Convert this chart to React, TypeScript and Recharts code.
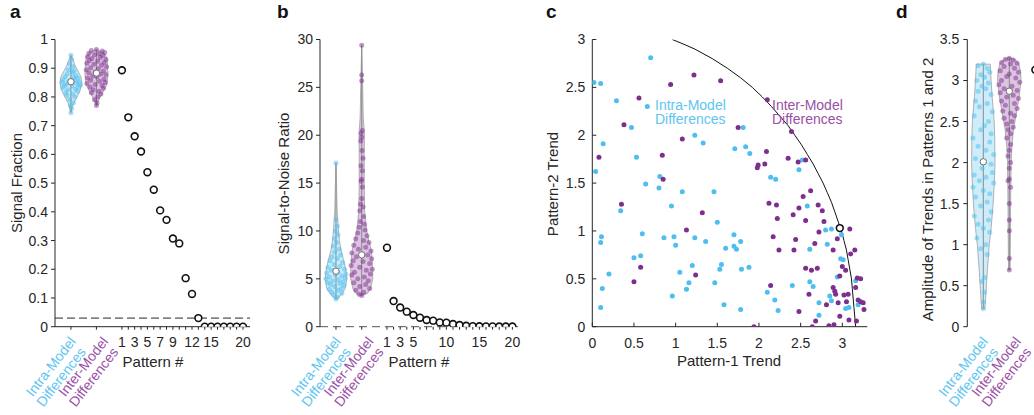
import React from "react";
import { ScatterChart, Scatter, XAxis, YAxis, ReferenceLine } from "recharts";

const FONT = '"Liberation Sans", Arial, Helvetica, sans-serif';
const INK = "#262626";
const CYAN = "#4DBEEE";
const PURPLE = "#7E2F8E";
const CYAN_TEXT = "#5EC5F0";
const PURPLE_TEXT = "#9A50A6";
const VIOLIN_EDGE = "#a0a0a0";
const WHISKER = "#8a8a8a";

const PATTERNS = [1, 2, 3, 4, 5, 6, 7, 8, 9, 10, 11, 12, 13, 14, 15, 16, 17, 18, 19, 20];

// ---------- panel a: signal fraction ----------
const SIGNAL_FRACTION = [0.893, 0.729, 0.663, 0.61, 0.538, 0.477, 0.405, 0.372, 0.307, 0.29, 0.169, 0.114, 0.03, 0, 0, 0, 0, 0, 0, 0];
const FRACTION_TICKS = [0, 0.1, 0.2, 0.3, 0.4, 0.5, 0.6, 0.7, 0.8, 0.9, 1];
const PATTERN_LABELS_A = [1, 3, 5, 7, 9, 12, 15, 20];
const FRACTION_THRESHOLD = 0.03;
const A_INTRA_X = -7;
const A_INTER_X = -3;
const A_MEDIANS = [0.853, 0.883];
const A_INTRA_OUTLINE_Y = [0.745, 0.76, 0.78, 0.8, 0.82, 0.85, 0.87, 0.89, 0.91, 0.93, 0.945];
const A_INTRA_OUTLINE_W = [0, 0.16, 0.47, 0.94, 1.41, 1.73, 1.57, 1.1, 0.63, 0.31, 0];
const A_INTER_OUTLINE_Y = [0.77, 0.78, 0.8, 0.82, 0.84, 0.86, 0.88, 0.9, 0.92, 0.94, 0.955, 0.965];
const A_INTER_OUTLINE_W = [0, 0.16, 0.63, 1.1, 1.57, 1.73, 1.81, 1.73, 1.73, 1.57, 1.1, 0];
const A_INTRA_DOTS = [
  [0, 0.945], [0.1, 0.93], [-0.2, 0.915], [0.3, 0.905], [-0.4, 0.895], [0.5, 0.89], [0.2, 0.885], [-0.6, 0.88],
  [0.8, 0.875], [-0.9, 0.87], [0.4, 0.868], [1.1, 0.865], [-1.2, 0.86], [0.6, 0.858], [-0.3, 0.855], [1.3, 0.852],
  [-1.4, 0.85], [0.9, 0.847], [-0.7, 0.845], [1.5, 0.842], [-1.0, 0.84], [0.2, 0.838], [1.2, 0.835], [-1.3, 0.832],
  [0.7, 0.828], [-0.5, 0.825], [1.0, 0.82], [-0.8, 0.815], [0.3, 0.81], [-0.6, 0.805], [0.6, 0.8], [-0.2, 0.79],
  [0.4, 0.78], [-0.1, 0.77], [0.1, 0.76], [0, 0.745],
];
const A_INTER_DOTS = [
  [0, 0.965], [-0.8, 0.962], [0.9, 0.96], [1.3, 0.955], [-1.2, 0.952], [0.4, 0.95], [-0.3, 0.947], [1.0, 0.944],
  [-1.4, 0.94], [0.6, 0.937], [-0.7, 0.934], [1.5, 0.93], [-1.1, 0.927], [0.2, 0.924], [1.2, 0.92], [-1.5, 0.917],
  [-0.4, 0.914], [0.8, 0.91], [1.6, 0.905], [-0.9, 0.902], [0.3, 0.898], [-1.6, 0.895], [1.1, 0.89], [-0.2, 0.887],
  [-1.2, 0.884], [0.7, 0.88], [1.5, 0.877], [-0.6, 0.873], [0.1, 0.87], [-1.4, 0.866], [1.2, 0.862], [-0.9, 0.858],
  [0.5, 0.855], [1.4, 0.85], [-1.5, 0.847], [-0.2, 0.843], [0.9, 0.84], [-1.0, 0.835], [1.1, 0.83], [-0.5, 0.825],
  [0.4, 0.82], [-0.8, 0.815], [0.7, 0.81], [0.2, 0.8], [-0.3, 0.79], [0.1, 0.78], [0, 0.77],
];

// ---------- panel b: signal-to-noise ratio ----------
const SNR = [8.25, 2.68, 2.0, 1.57, 1.22, 0.94, 0.7, 0.63, 0.45, 0.42, 0.28, 0.17, 0.1, 0.05, 0.04, 0.03, 0.03, 0.02, 0.02, 0.02];
const SNR_TICKS = [0, 5, 10, 15, 20, 25, 30];
const PATTERN_LABELS_B = [1, 3, 5, 10, 15, 20];
const B_INTRA_X = -6.73;
const B_INTER_X = -2.83;
const B_MEDIANS = [5.8, 7.5];
const B_INTRA_OUTLINE_Y = [2.86, 3.0, 3.3, 4, 5, 6, 7, 8, 9, 10, 12, 14, 17.1];
const B_INTRA_OUTLINE_W = [0, 0.3, 0.76, 1.41, 1.64, 1.47, 1.14, 0.76, 0.53, 0.38, 0.18, 0.12, 0];
const B_INTER_OUTLINE_Y = [3.24, 3.5, 4, 5, 6, 7, 8, 9, 10, 12, 15, 18, 20, 22, 25, 29.4];
const B_INTER_OUTLINE_W = [0, 0.91, 1.36, 1.67, 1.67, 1.59, 1.44, 1.06, 0.76, 0.45, 0.38, 0.38, 0.41, 0.23, 0.15, 0];
const B_INTRA_DOTS = [
  [0, 17.1], [0, 11.2], [0.2, 10.5], [-0.1, 10.0], [0.3, 9.6], [-0.2, 9.2], [0.1, 8.8], [-0.4, 8.4], [0.5, 8.1],
  [-0.2, 7.8], [0.7, 7.5], [-0.6, 7.3], [0.2, 7.1], [-0.9, 6.9], [1.0, 6.7], [-0.3, 6.5], [0.6, 6.3], [-1.2, 6.2],
  [1.3, 6.0], [-0.7, 5.9], [0.3, 5.7], [-1.4, 5.6], [1.5, 5.5], [-0.1, 5.4], [0.9, 5.3], [-1.0, 5.2], [1.4, 5.1],
  [-1.5, 5.0], [0.4, 4.9], [-0.5, 4.8], [1.1, 4.7], [-1.2, 4.6], [0.6, 4.5], [-0.8, 4.4], [1.2, 4.3], [-0.2, 4.2],
  [0.8, 4.0], [-1.0, 3.9], [0.3, 3.8], [-0.6, 3.6], [0.9, 3.5], [-0.3, 3.3], [0.2, 3.1], [0, 2.9],
];
const B_INTER_DOTS = [
  [0, 29.4], [0, 26.3], [0, 25.7], [0.1, 20.5], [-0.1, 20.2], [0, 19.8], [-0.15, 19.4], [0.05, 18.4], [0.2, 17.6],
  [-0.1, 16.8], [0.1, 16.3], [0, 15.4], [-0.1, 15.2], [0.1, 14.6], [0, 13.4], [-0.2, 12.8], [0.2, 12.5], [-0.3, 12.1],
  [0.3, 11.5], [-0.2, 11.0], [0.4, 10.7], [-0.4, 10.4], [0.5, 10.1], [-0.6, 9.8], [0.8, 9.5], [-0.9, 9.2], [0.3, 9.0],
  [1.1, 8.8], [-1.2, 8.5], [0.6, 8.3], [-0.5, 8.1], [1.4, 7.9], [-1.5, 7.7], [0.9, 7.5], [-0.8, 7.3], [1.5, 7.1],
  [-1.3, 6.9], [0.2, 6.8], [1.2, 6.6], [-1.6, 6.4], [-0.3, 6.2], [1.6, 6.0], [0.7, 5.9], [-1.1, 5.7], [1.3, 5.5],
  [-1.5, 5.4], [0.4, 5.2], [-0.6, 5.0], [1.0, 4.8], [-1.2, 4.6], [0.6, 4.4], [-0.3, 4.2], [1.2, 4.0], [-0.9, 3.8],
  [0.3, 3.6], [-0.4, 3.4], [0, 3.25],
];

// ---------- panel c: pattern trends ----------
const TREND_TICKS = [0, 0.5, 1, 1.5, 2, 2.5, 3];
const C_INTRA = [
  [0.7, 2.81], [0.02, 2.55], [0.1, 2.54], [0.29, 2.36], [0.66, 2.3], [0.47, 2.08], [0.13, 1.91], [0.53, 1.77],
  [0.04, 1.62], [0.81, 1.57], [0.64, 1.49], [0.8, 1.45], [1.08, 1.41], [0.95, 1.26], [0.34, 1.21], [0.6, 0.97],
  [0.11, 0.94], [0.1, 0.88], [0.86, 0.93], [0.98, 0.94], [1.0, 0.85], [0.5, 0.72], [0.58, 0.74], [0.2, 0.55],
  [0.12, 0.4], [0.1, 0.2], [0.96, 0.32], [1.05, 0.57], [1.23, 2.0], [1.33, 1.92], [1.46, 1.41], [1.5, 1.09],
  [1.23, 0.93], [1.36, 0.89], [1.2, 0.64], [1.16, 0.46], [1.13, 0.39], [1.47, 0.46], [1.55, 0.65], [1.53, 0.6],
  [1.58, 0.23], [1.6, 0.82], [1.7, 0.96], [1.7, 0.84], [1.73, 0.81], [1.78, 0.89], [1.79, 0.6], [1.88, 0.62],
  [1.78, 0.18], [1.71, 1.86], [1.81, 2.08], [1.84, 1.88], [1.89, 1.81], [2.14, 1.56], [2.2, 1.54], [2.48, 1.64],
  [2.52, 1.74], [2.58, 1.26], [2.61, 0.81], [2.1, 0.36], [2.19, 0.28], [2.23, 0.17], [2.4, 0.43], [2.61, 0.47],
  [2.65, 0.42], [2.72, 0.25], [2.72, 0.12], [2.8, 1.01], [2.87, 1.02], [2.82, 0.86], [2.99, 0.96], [2.98, 0.71],
  [3.01, 0.7], [2.94, 0.52], [2.85, 0.32], [2.87, 0.27], [3.04, 0.19], [3.08, 0.2], [3.16, 0.48], [3.19, 0.23],
];
const C_INTER = [
  [1.22, 2.63], [0.94, 2.53], [1.54, 2.57], [0.56, 2.39], [0.38, 2.11], [0.08, 1.77], [1.08, 1.96], [0.84, 1.79],
  [0.85, 1.54], [0.35, 1.28], [1.32, 1.19], [1.13, 1.01], [0.58, 0.62], [0.5, 0.47], [1.24, 0.54], [1.75, 2.08],
  [2.1, 2.37], [2.39, 2.04], [2.09, 1.83], [2.07, 1.7], [1.99, 1.69], [1.98, 1.66], [2.35, 1.76], [2.47, 1.72],
  [2.56, 1.74], [2.12, 1.29], [2.21, 1.27], [2.22, 1.13], [2.17, 0.94], [2.24, 0.8], [2.14, 0.43], [2.41, 1.17],
  [2.48, 1.24], [2.53, 1.36], [2.62, 1.42], [2.56, 1.11], [2.44, 0.91], [2.42, 0.8], [2.56, 0.61], [2.63, 0.59],
  [2.7, 0.61], [2.67, 0.87], [2.72, 0.99], [2.71, 1.27], [2.76, 1.21], [2.78, 1.1], [2.94, 0.92], [2.89, 0.8],
  [2.6, 0.34], [2.48, 0.16], [2.68, 0.06], [2.64, 0.0], [2.81, 0.23], [2.84, 0.01], [2.9, 0.02], [2.89, 0.41],
  [2.91, 0.37], [2.92, 0.34], [2.95, 0.25], [2.97, 0.53], [3.0, 0.63], [3.04, 0.59], [2.97, 0.11], [3.02, 0.33],
  [3.05, 0.26], [3.07, 0.34], [3.08, 0.07], [3.09, 1.02], [3.1, 0.76], [3.15, 0.8], [3.16, 0.41], [3.18, 0.51],
  [3.22, 0.5], [3.19, 0.28], [3.22, 0.26], [3.25, 0.25], [3.26, 0.18], [3.17, 0.06], [1.94, 0.0],
];
const C_MODEL_POINT = [2.97, 1.03];
const ARC_X = [0.96, 1.1, 1.23, 1.44, 1.62, 1.78, 1.92, 2.04, 2.15, 2.25, 2.35, 2.43, 2.51, 2.58, 2.65, 2.71, 2.77, 2.82, 2.87, 2.91, 2.95, 2.99, 3.02, 3.05, 3.07, 3.09, 3.11, 3.12, 3.13, 3.14, 3.15, 3.16];
const ARC_Y = [3.0, 2.95, 2.9, 2.8, 2.7, 2.6, 2.5, 2.4, 2.3, 2.2, 2.1, 2.0, 1.9, 1.8, 1.7, 1.6, 1.5, 1.4, 1.3, 1.2, 1.1, 1.0, 0.9, 0.8, 0.7, 0.6, 0.5, 0.4, 0.3, 0.2, 0.1, 0];

// ---------- panel d: amplitude ----------
const AMP_TICKS = [0, 0.5, 1, 1.5, 2, 2.5, 3, 3.5];
const D_INTRA_X = 1;
const D_INTER_X = 2;
const D_MODEL_X = 3;
const D_MODEL_AMP = 3.13;
const D_MEDIANS = [2.01, 2.87];
const D_INTRA_OUTLINE_Y = [0.22, 0.3, 0.5, 0.7, 1.0, 1.2, 1.5, 1.8, 2.0, 2.3, 2.5, 2.8, 3.0, 3.2];
const D_INTRA_OUTLINE_W = [0.06, 0.08, 0.12, 0.16, 0.23, 0.3, 0.38, 0.43, 0.45, 0.44, 0.42, 0.34, 0.3, 0.27];
const D_INTER_OUTLINE_Y = [0.69, 1.0, 1.5, 2.0, 2.2, 2.4, 2.6, 2.8, 3.0, 3.1, 3.2, 3.25, 3.28];
const D_INTER_OUTLINE_W = [0.03, 0.04, 0.05, 0.07, 0.1, 0.16, 0.27, 0.38, 0.45, 0.44, 0.37, 0.25, 0];
const D_INTRA_DOTS = [
  [0, 3.2], [-0.2, 3.18], [0.15, 3.15], [0.25, 3.1], [-0.1, 3.07], [0.05, 3.04], [-0.25, 3.0], [0.2, 2.97],
  [-0.05, 2.93], [0.1, 2.9], [-0.2, 2.87], [0.3, 2.83], [-0.3, 2.75], [0.15, 2.72], [-0.15, 2.68], [0.35, 2.62],
  [-0.35, 2.57], [0.2, 2.5], [0.05, 2.45], [-0.1, 2.4], [0.3, 2.35], [-0.4, 2.3], [0.25, 2.25], [-0.2, 2.2],
  [0.1, 2.15], [0.4, 2.1], [-0.3, 2.05], [0.3, 1.98], [-0.05, 1.93], [0.35, 1.88], [-0.35, 1.85], [0.1, 1.82],
  [-0.15, 1.78], [0.4, 1.75], [-0.4, 1.7], [0, 1.66], [0.25, 1.62], [-0.3, 1.58], [0.15, 1.52], [-0.1, 1.47],
  [0.3, 1.4], [-0.35, 1.35], [0.2, 1.3], [-0.2, 1.25], [0, 1.2], [0.25, 1.15], [-0.25, 1.08], [0.1, 1.0],
  [-0.1, 0.95], [0.15, 0.88], [0.05, 0.6], [-0.05, 0.55], [0.05, 0.42], [0, 0.3], [0, 0.22],
];
const D_INTER_DOTS = [
  [0, 3.27], [-0.15, 3.26], [0.15, 3.25], [-0.3, 3.22], [0.3, 3.21], [0.05, 3.2], [-0.2, 3.17], [0.2, 3.15],
  [-0.35, 3.12], [0.35, 3.1], [0, 3.08], [-0.1, 3.05], [0.25, 3.03], [-0.3, 3.0], [0.4, 2.98], [-0.4, 2.95],
  [0.1, 2.93], [-0.2, 2.9], [0.3, 2.88], [-0.35, 2.85], [0.15, 2.82], [-0.1, 2.8], [0.35, 2.78], [-0.3, 2.75],
  [0.2, 2.72], [-0.15, 2.7], [0.3, 2.66], [-0.25, 2.63], [0.05, 2.6], [0.2, 2.57], [-0.2, 2.54], [0.1, 2.5],
  [-0.1, 2.47], [0.15, 2.43], [-0.05, 2.4], [0.05, 2.35], [-0.1, 2.3], [0.05, 2.22], [0, 2.15], [-0.05, 2.08],
  [0.05, 2.0], [0, 1.93], [0, 1.8], [-0.05, 1.78], [0.05, 1.7], [0, 1.5], [0, 1.3], [0, 1.17], [0, 0.83], [0, 0.69],
];

// ---------- helpers ----------
const toPoints = (cx: number, dots: number[][]) => dots.map(([dx, y]) => ({ x: cx + dx, y }));
const toXY = (pairs: number[][]) => pairs.map(([x, y]) => ({ x, y }));
const outline = (cx: number, ys: number[], ws: number[]) => [
  ...ys.map((y, i) => ({ x: cx + ws[i], y })),
  ...ys.map((y, i) => ({ x: cx - ws[i], y })).reverse(),
];

const NoDot = () => <g />;
const OpenCircle = (p: any) => (
  <circle cx={p.cx} cy={p.cy} r={3.4} fill="#fff" stroke="#111" strokeWidth={1.6} />
);

const violinFill = (color: string) => (p: any) => {
  const pts = p.points || [];
  if (!pts.length) return <g />;
  const d = pts.map((q: any, i: number) => `${i ? "L" : "M"}${q.x},${q.y}`).join("") + "Z";
  return <path d={d} fill={color} fillOpacity={0.28} stroke={VIOLIN_EDGE} strokeWidth={0.8} />;
};

function violinLayers(key: string, cx: number, ys: number[], ws: number[], dots: number[][], median: number, color: string) {
  const lo = ys[0];
  const hi = ys[ys.length - 1];
  return [
    <Scatter key={key + "-v"} data={outline(cx, ys, ws)} shape={NoDot} line={violinFill(color)} isAnimationActive={false} />,
    <Scatter key={key + "-w"} data={[{ x: cx, y: lo }, { x: cx, y: hi }]} shape={NoDot} line={{ stroke: WHISKER, strokeWidth: 1 }} isAnimationActive={false} />,
    <Scatter
      key={key + "-d"}
      data={toPoints(cx, dots)}
      shape={(p: any) => <circle cx={p.cx} cy={p.cy} r={2.5} fill={color} fillOpacity={0.5} />}
      isAnimationActive={false}
    />,
    <Scatter
      key={key + "-m"}
      data={[{ x: cx, y: median }]}
      shape={(p: any) => <circle cx={p.cx} cy={p.cy} r={3.2} fill="#fff" stroke="#6e6e6e" strokeWidth={1} />}
      isAnimationActive={false}
    />,
  ];
}

// two-line category label, rotated and right-aligned under its tick
function CategoryLabel({ x, y, first, second, color, shift }: any) {
  const ex = x + shift;
  const ey = y + 10;
  return (
    <text transform={`rotate(-52, ${ex}, ${ey})`} fontSize={14} fill={color} textAnchor="end" fontFamily={FONT}>
      <tspan x={ex} y={ey}>{first}</tspan>
      <tspan x={ex - 2} y={ey + 14.5}>{second}</tspan>
    </text>
  );
}

function makePatternTick(labels: number[], intraX: number, interX: number) {
  return (props: any) => {
    const { x, y, payload } = props;
    const v = payload.value;
    if (v === intraX) return <CategoryLabel x={x} y={y} shift={5.5} first="Intra-Model" second="Differences" color={CYAN_TEXT} />;
    if (v === interX) return <CategoryLabel x={x} y={y} shift={12.5} first="Inter-Model" second="Differences" color={PURPLE_TEXT} />;
    if (labels.includes(v)) {
      return (
        <text x={x} y={y + 15} textAnchor="middle" fontSize={14} fill={INK} fontFamily={FONT}>
          {v}
        </text>
      );
    }
    return <g />;
  };
}

const yTick = { fill: INK, fontSize: 14, fontFamily: FONT };
const axisStroke = { stroke: INK };

function PanelA() {
  const data = PATTERNS.map((x, i) => ({ x, y: SIGNAL_FRACTION[i] }));
  return (
    <ScatterChart width={260} height={415} margin={{ top: 39.5, right: 10, bottom: 0, left: 0 }}>
      <XAxis
        type="number"
        dataKey="x"
        domain={[-9.5, 21.1]}
        allowDataOverflow
        ticks={[A_INTRA_X, A_INTER_X, ...PATTERNS]}
        interval={0}
        height={88.3}
        tickSize={3}
        tickMargin={2}
        axisLine={axisStroke}
        tickLine={axisStroke}
        tick={makePatternTick(PATTERN_LABELS_A, A_INTRA_X, A_INTER_X)}
      />
      <YAxis type="number" dataKey="y" domain={[0, 1]} allowDataOverflow ticks={FRACTION_TICKS} interval={0} width={55} tickSize={4} tickMargin={3} axisLine={axisStroke} tickLine={axisStroke} tick={yTick} />
      <ReferenceLine y={FRACTION_THRESHOLD} stroke={INK} strokeDasharray="8 4" strokeWidth={1} />
      {violinLayers("ai", A_INTRA_X, A_INTRA_OUTLINE_Y, A_INTRA_OUTLINE_W, A_INTRA_DOTS, A_MEDIANS[0], CYAN)}
      {violinLayers("ae", A_INTER_X, A_INTER_OUTLINE_Y, A_INTER_OUTLINE_W, A_INTER_DOTS, A_MEDIANS[1], PURPLE)}
      <Scatter data={data} shape={OpenCircle} isAnimationActive={false} />
    </ScatterChart>
  );
}

function PanelB() {
  const data = PATTERNS.map((x, i) => ({ x, y: SNR[i] }));
  return (
    <ScatterChart width={270} height={415} margin={{ top: 39.5, right: 12, bottom: 0, left: 0 }}>
      <XAxis
        type="number"
        dataKey="x"
        domain={[-9.15, 20.85]}
        allowDataOverflow
        ticks={[B_INTRA_X, B_INTER_X, ...PATTERNS]}
        interval={0}
        height={88.3}
        tickSize={3}
        tickMargin={2}
        axisLine={false}
        tickLine={axisStroke}
        tick={makePatternTick(PATTERN_LABELS_B, B_INTRA_X, B_INTER_X)}
      />
      <YAxis type="number" dataKey="y" domain={[0, 30]} allowDataOverflow ticks={SNR_TICKS} interval={0} width={60} tickSize={4} tickMargin={3} axisLine={axisStroke} tickLine={axisStroke} tick={yTick} />
      <ReferenceLine y={0} stroke="#555" strokeDasharray="8 5" strokeWidth={1} />
      {violinLayers("bi", B_INTRA_X, B_INTRA_OUTLINE_Y, B_INTRA_OUTLINE_W, B_INTRA_DOTS, B_MEDIANS[0], CYAN)}
      {violinLayers("be", B_INTER_X, B_INTER_OUTLINE_Y, B_INTER_OUTLINE_W, B_INTER_DOTS, B_MEDIANS[1], PURPLE)}
      <Scatter data={data} shape={OpenCircle} isAnimationActive={false} />
    </ScatterChart>
  );
}

function PanelC() {
  const arc = ARC_X.map((x, i) => ({ x, y: ARC_Y[i] }));
  const dot = (color: string) => (p: any) => <circle cx={p.cx} cy={p.cy} r={2.5} fill={color} />;
  return (
    <ScatterChart width={350} height={415} margin={{ top: 39.5, right: 12.7, bottom: 0, left: 0 }}>
      <XAxis type="number" dataKey="x" domain={[0, 3.3]} allowDataOverflow ticks={TREND_TICKS} interval={0} height={88.3} tickSize={-4} tickMargin={15} axisLine={axisStroke} tickLine={axisStroke} tick={yTick} />
      <XAxis xAxisId="top" orientation="top" type="number" dataKey="x" domain={[0, 3.3]} allowDataOverflow ticks={TREND_TICKS} interval={0} height={0} tickSize={-4} axisLine={axisStroke} tickLine={axisStroke} tick={false} />
      <YAxis type="number" dataKey="y" domain={[0, 3]} allowDataOverflow ticks={TREND_TICKS} interval={0} width={62.3} tickSize={-4} tickMargin={11} axisLine={axisStroke} tickLine={axisStroke} tick={yTick} />
      <YAxis yAxisId="right" orientation="right" type="number" dataKey="y" domain={[0, 3]} allowDataOverflow ticks={TREND_TICKS} interval={0} width={0} tickSize={-4} axisLine={axisStroke} tickLine={axisStroke} tick={false} />
      <Scatter data={arc} shape={NoDot} line={{ stroke: "#111", strokeWidth: 1 }} isAnimationActive={false} />
      <Scatter data={toXY(C_INTRA)} shape={dot(CYAN)} isAnimationActive={false} />
      <Scatter data={toXY(C_INTER)} shape={dot(PURPLE)} isAnimationActive={false} />
      <Scatter data={[{ x: C_MODEL_POINT[0], y: C_MODEL_POINT[1] }]} shape={OpenCircle} isAnimationActive={false} />
    </ScatterChart>
  );
}

function PanelD() {
  return (
    <ScatterChart width={160} height={415} margin={{ top: 39.5, right: 0, bottom: 0, left: 0 }}>
      <XAxis
        type="number"
        dataKey="x"
        domain={[0.385, 3.18]}
        allowDataOverflow
        ticks={[D_INTRA_X, D_INTER_X]}
        interval={0}
        height={88.3}
        tickSize={3}
        tickMargin={2}
        axisLine={false}
        tickLine={false}
        tick={makePatternTick([], D_INTRA_X, D_INTER_X)}
      />
      <YAxis type="number" dataKey="y" domain={[0, 3.5]} allowDataOverflow ticks={AMP_TICKS} interval={0} width={87.3} tickSize={4} tickMargin={4} axisLine={axisStroke} tickLine={axisStroke} tick={yTick} />
      {violinLayers("di", D_INTRA_X, D_INTRA_OUTLINE_Y, D_INTRA_OUTLINE_W, D_INTRA_DOTS, D_MEDIANS[0], CYAN)}
      {violinLayers("de", D_INTER_X, D_INTER_OUTLINE_Y, D_INTER_OUTLINE_W, D_INTER_DOTS, D_MEDIANS[1], PURPLE)}
      <Scatter data={[{ x: D_MODEL_X, y: D_MODEL_AMP }]} shape={OpenCircle} isAnimationActive={false} />
    </ScatterChart>
  );
}

const title = { fontFamily: FONT, fontSize: 15, fill: INK } as const;
const letter = { fontFamily: FONT, fontSize: 19, fontWeight: 700, fill: "#111" } as const;

export default function App() {
  return (
    <div style={{ position: "absolute", left: 0, top: 0, width: 1034, height: 415, overflow: "hidden", background: "#fff" }}>
      <div style={{ position: "absolute", left: 0, top: 0 }}>
        <PanelA />
      </div>
      <div style={{ position: "absolute", left: 260, top: 0 }}>
        <PanelB />
      </div>
      <div style={{ position: "absolute", left: 530, top: 0 }}>
        <PanelC />
      </div>
      <div style={{ position: "absolute", left: 880, top: 0 }}>
        <PanelD />
      </div>
      <svg width={1034} height={415} style={{ position: "absolute", left: 0, top: 0, pointerEvents: "none" }}>
        <text x={10} y={18} {...letter}>a</text>
        <text x={277} y={18} {...letter}>b</text>
        <text x={546} y={18} {...letter}>c</text>
        <text x={896} y={18} {...letter}>d</text>

        <text transform="rotate(-90, 21.5, 183)" x={21.5} y={183} textAnchor="middle" {...title}>Signal Fraction</text>
        <text x={153} y={366.5} textAnchor="middle" {...title}>Pattern #</text>

        <text transform="rotate(-90, 289, 183.5)" x={289} y={183.5} textAnchor="middle" {...title}>Signal-to-Noise Ratio</text>
        <text x={419} y={366.5} textAnchor="middle" {...title}>Pattern #</text>

        <text transform="rotate(-90, 558, 184)" x={558} y={184} textAnchor="middle" {...title}>Pattern-2 Trend</text>
        <text x={729} y={366} textAnchor="middle" {...title}>Pattern-1 Trend</text>
        <text x={655} y={110} fontFamily={FONT} fontSize={14} fill={CYAN_TEXT}>
          <tspan x={655} y={110}>Intra-Model</tspan>
          <tspan x={655} y={124}>Differences</tspan>
        </text>
        <text x={772} y={110} fontFamily={FONT} fontSize={14} fill={PURPLE_TEXT}>
          <tspan x={772} y={110}>Inter-Model</tspan>
          <tspan x={772} y={124}>Differences</tspan>
        </text>

        <text transform="rotate(-90, 933, 189.5)" x={933} y={189.5} textAnchor="middle" {...title}>Amplitude of Trends in Patterns 1 and 2</text>
      </svg>
    </div>
  );
}
